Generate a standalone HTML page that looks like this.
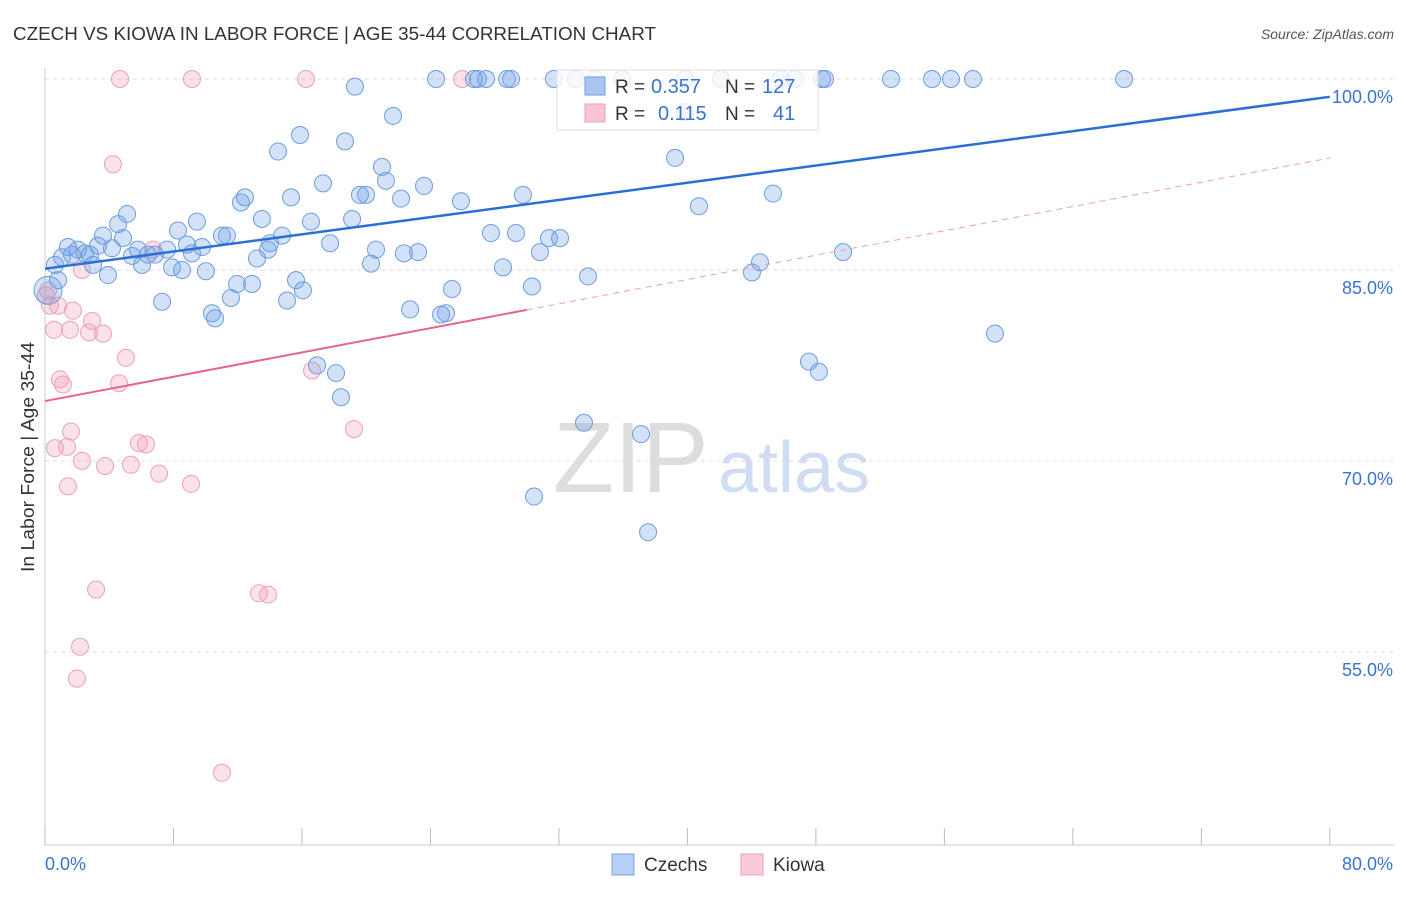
<!DOCTYPE html>
<html><head><meta charset="utf-8"><style>
body{margin:0;background:#fff;font-family:"Liberation Sans",sans-serif;}
svg text{font-family:"Liberation Sans",sans-serif;}
</style></head><body>
<svg id="chart" width="1406" height="892">
<text x="13" y="40" font-size="18" fill="#333" textLength="643" lengthAdjust="spacingAndGlyphs">CZECH VS KIOWA IN LABOR FORCE | AGE 35-44 CORRELATION CHART</text>
<text x="1394" y="39" font-size="14" fill="#555" font-style="italic" text-anchor="end">Source: ZipAtlas.com</text>
<text transform="translate(34,457) rotate(-90)" font-size="18" fill="#333" text-anchor="middle" textLength="230" lengthAdjust="spacingAndGlyphs">In Labor Force | Age 35-44</text>
<g><text x="553" y="492" font-size="100" fill="#ddd" font-family="Liberation Serif,serif">ZIP</text><text x="718" y="492" font-size="72" fill="#cfdcf2">atlas</text></g>
<g id="grid"></g><g id="axes"></g><g id="pts"></g><g id="trend"></g>
<g>
<rect x="557" y="70" width="261" height="60" fill="#fff" fill-opacity="0.8" stroke="#ddd"/>
<rect x="585" y="77" width="20" height="18" fill="#a8c6f0" stroke="#6d9de0"/>
<rect x="585" y="104" width="20" height="18" fill="#f8c4d2" stroke="#eea0b6"/>
<text x="615" y="93" font-size="19" fill="#333">R =</text>
<text x="651" y="93" font-size="20" fill="#3a73d1">0.357</text>
<text x="725" y="93" font-size="19" fill="#333">N =</text>
<text x="762" y="93" font-size="20" fill="#3a73d1">127</text>
<text x="615" y="120" font-size="19" fill="#333">R =</text>
<text x="658" y="120" font-size="20" fill="#3a73d1">0.115</text>
<text x="725" y="120" font-size="19" fill="#333">N =</text>
<text x="773" y="120" font-size="20" fill="#3a73d1">41</text>
</g>
<g>
<rect x="612" y="854" width="22" height="21" fill="#b6cff2" stroke="#7aa5e3"/>
<text x="644" y="871" font-size="19" fill="#333">Czechs</text>
<rect x="741" y="854" width="22" height="21" fill="#f9cbd8" stroke="#eea0b6"/>
<text x="773" y="871" font-size="19" fill="#333">Kiowa</text>
</g>
</svg>
<script>
const yTicks=[100,85,70,55];
const czechX=[0.62,0.81,1.06,1.43,1.68,2.05,2.49,2.80,2.99,3.30,3.61,3.92,4.17,4.55,4.86,5.11,5.42,5.79,6.04,6.41,6.85,7.29,7.60,7.91,8.28,8.53,8.84,9.15,9.46,9.78,10.02,10.40,10.59,11.02,11.33,11.58,11.96,12.20,12.45,12.89,13.20,13.51,13.89,14.01,14.51,14.76,15.07,15.32,15.63,15.88,16.06,16.56,16.94,17.31,17.75,18.12,18.43,18.68,19.12,19.30,19.61,19.99,20.30,20.61,20.98,21.23,21.67,22.17,22.35,22.73,23.23,23.60,24.66,24.97,25.34,25.90,27.77,28.52,29.33,29.76,30.32,30.45,30.82,31.38,32.07,33.56,33.81,37.11,37.55,39.23,39.85,40.72,44.02,44.52,45.33,47.57,48.19,49.69,59.15,24.35,26.71,26.96,27.46,28.77,29.02,31.69,33.06,34.25,35.93,39.85,42.09,45.83,46.70,48.38,48.57,52.68,55.23,56.41,57.78,67.19,0.19];
const czechY=[85.4,84.2,86.0,86.8,86.2,86.6,86.3,86.2,85.4,86.9,87.7,84.6,86.7,88.6,87.5,89.4,86.1,86.6,85.4,86.2,86.2,82.5,86.6,85.2,88.1,85.0,87.0,86.3,88.8,86.8,84.9,81.6,81.2,87.7,87.7,82.8,83.9,90.3,90.7,83.9,85.9,89.0,86.6,87.1,94.3,87.7,82.6,90.7,84.2,95.6,83.4,88.8,77.5,91.8,87.1,76.9,75.0,95.1,89.0,99.4,90.9,90.9,85.5,86.6,93.1,92.0,97.1,90.6,86.3,81.9,86.4,91.6,81.5,81.6,83.5,90.4,87.9,85.2,87.9,90.9,83.7,67.2,86.4,87.5,87.5,73.0,84.5,72.1,64.4,93.8,97.4,90.0,84.8,85.6,91.0,77.8,77.0,86.4,80.0,100,100,100,100,100,100,100,100,100,100,100,100,100,100,100,100,100,100,100,100,100,83.4];
const kiowaX=[4.67,9.15,16.25,25.97,4.23,0.19,0.31,0.56,0.81,0.93,1.12,1.56,1.74,2.30,2.93,2.74,3.61,5.04,4.61,6.72,0.62,1.37,1.62,2.30,3.74,5.35,5.85,6.29,7.10,9.09,1.43,3.18,2.18,1.99,11.02,13.32,13.89,16.63,19.24,0.06];
const kiowaY=[100,100,100,100,93.3,83.4,82.2,80.3,82.2,76.4,76.0,80.3,81.8,85.0,81.0,80.1,80.0,78.1,76.1,86.6,71.0,71.1,72.3,70.0,69.6,69.7,71.4,71.3,69.0,68.2,68.0,59.9,55.4,52.9,45.5,59.6,59.5,77.1,72.5,83.0];
const czechTrend=[85.1,98.6];
const kiowaTrend=[74.7,93.8];
const kiowaSolidEnd=30;
const NS='http://www.w3.org/2000/svg';
const X=v=>45+v*16.06, Y=v=>79+(100-v)*12.73;
function mk(t,a,p){const e=document.createElementNS(NS,t);for(const k in a)e.setAttribute(k,a[k]);p.appendChild(e);return e;}
const grid=document.getElementById('grid');
yTicks.forEach(t=>{
 const l=mk('line',{x1:45,x2:1394,y1:Y(t),y2:Y(t),stroke:'#ddd','stroke-dasharray':'4,4'},grid);
 
 
 const tx=mk('text',{x:1393,y:Y(t)+24,'font-size':18,fill:'#3a73d1','text-anchor':'end'},grid);
 tx.textContent=t.toFixed(1)+'%';
 
 
});
const axes=document.getElementById('axes');
mk('line',{x1:45,x2:45,y1:68,y2:845,stroke:'#ccc'},axes);
mk('line',{x1:45,x2:1394,y1:845,y2:845,stroke:'#ccc'},axes);
for(let i=0;i<=10;i++){mk('line',{x1:X(i*8),x2:X(i*8),y1:828,y2:845,stroke:'#bbb'},axes);}
const xl0=mk('text',{x:45,y:870,'font-size':18,fill:'#3a73d1'},axes);xl0.textContent='0.0%';


const xl1=mk('text',{x:1393,y:870,'font-size':18,fill:'#3a73d1','text-anchor':'end'},axes);xl1.textContent='80.0%';


const pts=document.getElementById('pts');
kiowaX.forEach((x,i)=>{
 const c=mk('circle',{cx:X(x),cy:Y(kiowaY[i]),r:8.5,fill:'rgba(242,150,175,0.28)',stroke:'#eea0b6','stroke-width':1},pts);
 
 
});
czechX.forEach((x,i)=>{
 const c=mk('circle',{cx:X(x),cy:Y(czechY[i]),r:i===czechX.length-1?14:8.5,fill:'rgba(110,160,230,0.3)',stroke:'#6d9de0','stroke-width':1},pts);
 
 
});
const tr=document.getElementById('trend');
const bl=mk('line',{x1:X(0),y1:Y(czechTrend[0]),x2:X(80),y2:Y(czechTrend[1]),stroke:'#2a6fd6','stroke-width':2.5},tr);


const kAt=v=>kiowaTrend[0]+(kiowaTrend[1]-kiowaTrend[0])*v/80;
const pl=mk('line',{x1:X(0),y1:Y(kAt(0)),x2:X(kiowaSolidEnd),y2:Y(kAt(kiowaSolidEnd)),stroke:'#e8628e','stroke-width':2},tr);


const pd=mk('line',{x1:X(kiowaSolidEnd),y1:Y(kAt(kiowaSolidEnd)),x2:X(80),y2:Y(kAt(80)),stroke:'#eea0b6','stroke-width':1,'stroke-dasharray':'6,5'},tr);


</script>
</body></html>
